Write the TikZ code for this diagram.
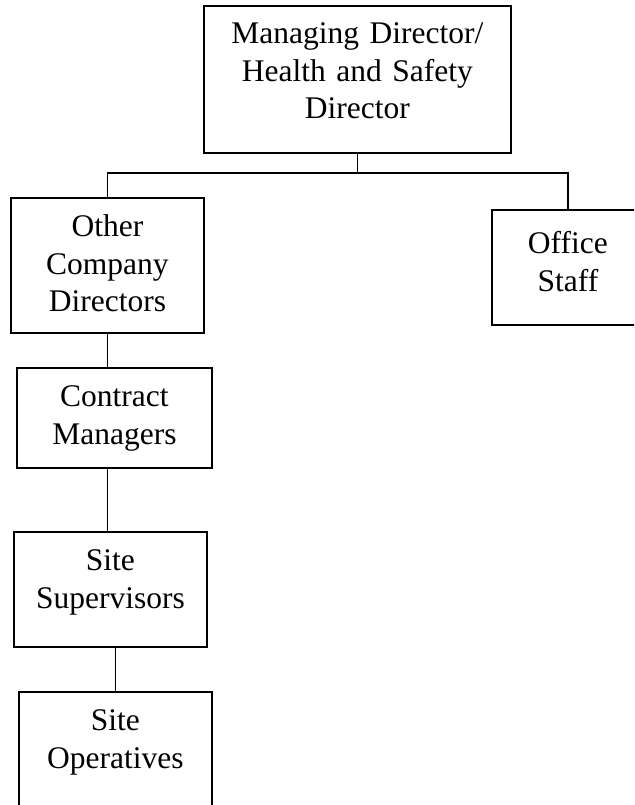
\documentclass[tikz,border=0pt]{standalone}
\usepackage{fontspec}
\setmainfont{Liberation Serif}
\begin{document}
\begin{tikzpicture}[x=1pt,y=-1pt] % оргструктура
\tikzstyle{orgbox} = [draw, line width=1.8pt, inner sep=0pt, align=center, anchor=north west, font=\fontsize{31.5}{37.5}\selectfont] % рамка с текстом
\tikzstyle{orgline} = [line width=1.8pt] % соединительные линии
\useasboundingbox (0,0) rectangle (634,805);
\clip (0,0) rectangle (634,805);
\node[orgbox, text width=307pt, text height=38pt, text depth=109pt] (md) at (203,5) {Managing Director/\\Health and Safety\\Director};
\node[orgbox, text width=193pt, text height=39pt, text depth=96pt] (ocd) at (10,197) {Other\\Company\\Directors};
\node[orgbox, text width=152pt, text height=44pt, text depth=71pt] (off) at (491,209) {Office\\Staff};
\node[orgbox, text width=195pt, text height=39pt, text depth=61pt] (cm) at (16,367) {Contract\\Managers};
\node[orgbox, text width=193pt, text height=39pt, text depth=76pt] (ss) at (13,531) {Site\\Supervisors};
\node[orgbox, text width=193pt, text height=39pt, text depth=140pt] (so) at (18,691) {Site\\Operatives};
\draw[orgline] (md.south) -- ++(0,19) -| (ocd.north); % общая шина
\draw[orgline] (md.south) ++(0,19) -| (off.north);
\draw[orgline] (ocd.south) -- (cm.north -| ocd.south);
\draw[orgline] (cm.south -| ocd.south) -- (ss.north -| ocd.south);
\draw[orgline] (ss.south -| so.north) -- (so.north);
\end{tikzpicture}
\end{document}
